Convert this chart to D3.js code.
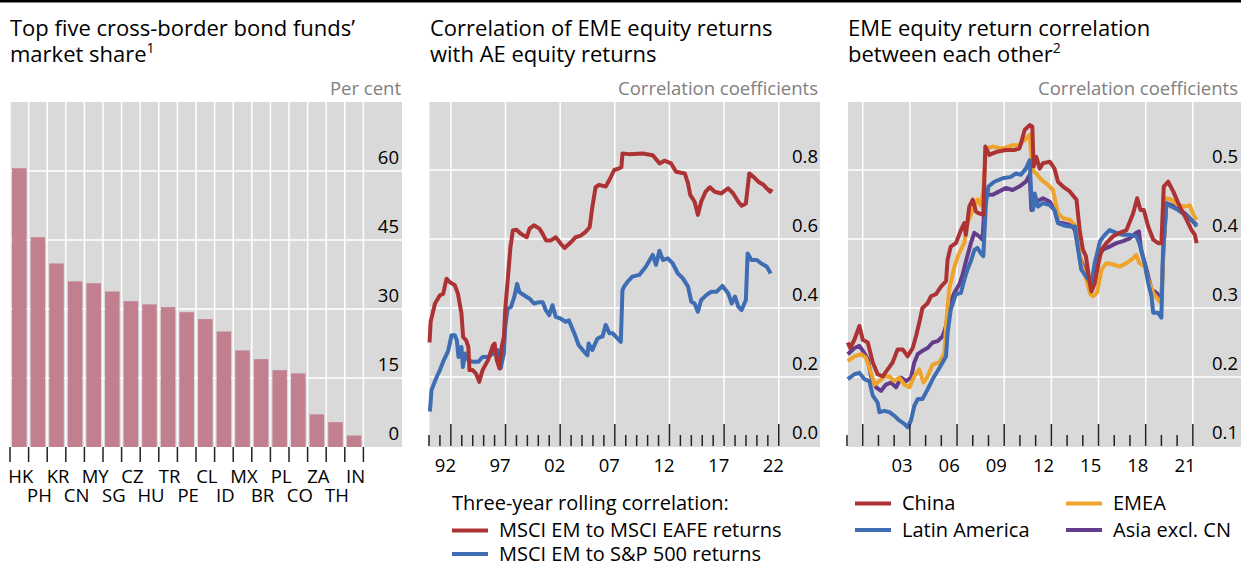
<!DOCTYPE html>
<html>
<head>
<meta charset="utf-8">
<script src="https://cdn.jsdelivr.net/npm/d3@7"></script>
<style>
  body { margin: 0; background: #fff; }
  svg { display: block; }
  text { font-family: "Open Sans", sans-serif; fill: #000; }
</style>
</head>
<body>
<svg width="1241" height="565"></svg>
<script>
// left panel: market share of top five cross-border bond funds, per cent
const countries = ["HK","PH","KR","CN","MY","SG","CZ","HU","TR","PE","CL","ID","MX","BR","PL","CO","ZA","TH","IN"];
const shares = [60.6, 45.6, 39.9, 36.0, 35.6, 33.8, 31.7, 31.0, 30.4, 29.3, 27.8, 25.1, 21.0, 19.1, 16.7, 16.0, 7.1, 5.4, 2.5];
const shareTicks = [0, 15, 30, 45, 60];

// middle panel: three-year rolling correlation, [year, value]
const eafe = [[1991.05,0.30],[1991.15,0.36],[1991.55,0.413],[1992.0,0.437],[1992.3,0.441],[1992.6,0.485],[1992.9,0.475],[1993.36,0.466],[1993.65,0.441],[1993.97,0.384],[1994.12,0.316],[1994.4,0.306],[1994.6,0.287],[1994.7,0.22],[1995.0,0.22],[1995.3,0.21],[1995.6,0.186],[1995.9,0.22],[1996.4,0.249],[1996.85,0.292],[1997.0,0.297],[1997.2,0.249],[1997.45,0.225],[1997.65,0.287],[1997.85,0.316],[1997.97,0.393],[1998.2,0.48],[1998.45,0.576],[1998.67,0.625],[1999.0,0.627],[1999.4,0.615],[1999.94,0.605],[2000.2,0.63],[2000.6,0.64],[2001.1,0.63],[2001.4,0.615],[2001.7,0.596],[2002.15,0.596],[2002.6,0.605],[2003.06,0.586],[2003.4,0.574],[2004.0,0.591],[2004.4,0.605],[2004.9,0.61],[2005.3,0.62],[2005.7,0.634],[2005.94,0.692],[2006.24,0.75],[2006.55,0.757],[2007.17,0.752],[2007.5,0.771],[2007.94,0.8],[2008.4,0.805],[2008.6,0.808],[2008.7,0.848],[2009.3,0.846],[2010.55,0.848],[2011.47,0.843],[2012.1,0.819],[2012.54,0.827],[2013.15,0.819],[2013.6,0.795],[2014.4,0.79],[2014.7,0.761],[2014.9,0.728],[2015.3,0.708],[2015.6,0.67],[2015.9,0.708],[2016.3,0.737],[2016.7,0.75],[2017.14,0.737],[2017.75,0.732],[2018.37,0.747],[2018.83,0.732],[2019.3,0.708],[2019.6,0.696],[2019.99,0.703],[2020.3,0.79],[2020.67,0.781],[2021.13,0.766],[2021.6,0.757],[2021.9,0.747],[2022.2,0.737],[2022.36,0.745]];
const sp500 = [[1991.08,0.10],[1991.23,0.162],[1991.7,0.2],[1992.0,0.22],[1992.3,0.245],[1992.75,0.275],[1993.06,0.321],[1993.36,0.321],[1993.55,0.306],[1993.7,0.258],[1993.97,0.287],[1994.1,0.229],[1994.3,0.268],[1994.6,0.249],[1995.0,0.244],[1995.5,0.244],[1995.9,0.258],[1996.4,0.258],[1996.85,0.268],[1997.3,0.278],[1997.55,0.225],[1997.85,0.268],[1997.97,0.345],[1998.2,0.398],[1998.5,0.403],[1998.8,0.432],[1999.06,0.47],[1999.27,0.446],[1999.7,0.437],[2000.2,0.427],[2000.6,0.413],[2001.1,0.417],[2001.4,0.417],[2001.7,0.393],[2002.0,0.379],[2002.3,0.408],[2002.6,0.374],[2003.06,0.369],[2003.5,0.36],[2003.8,0.364],[2004.3,0.326],[2004.7,0.292],[2005.2,0.273],[2005.5,0.263],[2005.6,0.297],[2005.94,0.278],[2006.4,0.311],[2006.7,0.316],[2006.87,0.317],[2007.17,0.351],[2007.5,0.327],[2007.8,0.327],[2008.09,0.317],[2008.55,0.302],[2008.7,0.452],[2008.85,0.462],[2009.17,0.476],[2009.6,0.491],[2010.24,0.496],[2010.85,0.52],[2011.47,0.554],[2011.77,0.525],[2012.08,0.566],[2012.4,0.539],[2012.85,0.544],[2013.3,0.529],[2013.77,0.5],[2014.23,0.486],[2014.7,0.462],[2015.0,0.418],[2015.3,0.413],[2015.6,0.389],[2015.9,0.423],[2016.4,0.438],[2016.8,0.447],[2017.3,0.447],[2017.85,0.464],[2018.37,0.443],[2018.7,0.413],[2019.0,0.433],[2019.3,0.404],[2019.6,0.394],[2019.99,0.423],[2020.15,0.558],[2020.5,0.539],[2021.0,0.539],[2021.4,0.529],[2021.9,0.52],[2022.26,0.5]];
const corrTicksMid = [0.0, 0.2, 0.4, 0.6, 0.8];

// right panel: EME equity return correlation, [year, value]
const china = [[2000.05,0.25],[2000.2,0.242],[2000.47,0.254],[2000.79,0.274],[2001.0,0.254],[2001.32,0.25],[2001.64,0.221],[2001.95,0.204],[2002.27,0.201],[2002.59,0.211],[2002.9,0.221],[2003.22,0.24],[2003.54,0.24],[2003.86,0.23],[2004.18,0.242],[2004.39,0.259],[2004.6,0.279],[2004.8,0.3],[2005.13,0.307],[2005.34,0.317],[2005.66,0.32],[2005.98,0.331],[2006.3,0.339],[2006.4,0.37],[2006.6,0.389],[2006.93,0.394],[2007.25,0.413],[2007.46,0.423],[2007.56,0.406],[2007.78,0.447],[2008.0,0.457],[2008.2,0.44],[2008.4,0.437],[2008.67,0.435],[2008.8,0.534],[2009.05,0.522],[2009.47,0.526],[2010.1,0.529],[2010.64,0.529],[2010.96,0.531],[2011.06,0.538],[2011.3,0.558],[2011.62,0.565],[2011.79,0.563],[2011.87,0.505],[2012.04,0.519],[2012.26,0.502],[2012.47,0.51],[2012.9,0.512],[2013.2,0.502],[2013.42,0.483],[2013.74,0.476],[2014.17,0.469],[2014.6,0.457],[2014.8,0.413],[2015.0,0.385],[2015.2,0.375],[2015.44,0.336],[2015.55,0.324],[2015.76,0.336],[2016.0,0.365],[2016.2,0.385],[2016.5,0.394],[2016.93,0.404],[2017.35,0.409],[2017.78,0.413],[2018.2,0.437],[2018.46,0.459],[2018.67,0.442],[2018.88,0.442],[2019.16,0.418],[2019.48,0.399],[2019.8,0.394],[2020.0,0.394],[2020.15,0.476],[2020.43,0.483],[2020.75,0.469],[2021.17,0.447],[2021.6,0.428],[2021.92,0.413],[2022.13,0.406],[2022.24,0.394]];
const latam = [[2000.05,0.197],[2000.47,0.204],[2000.79,0.206],[2001.1,0.197],[2001.42,0.194],[2001.64,0.173],[2001.95,0.163],[2002.06,0.149],[2002.38,0.151],[2002.7,0.149],[2003.0,0.144],[2003.33,0.137],[2003.65,0.132],[2003.86,0.127],[2004.07,0.137],[2004.28,0.158],[2004.5,0.168],[2004.8,0.168],[2005.13,0.182],[2005.45,0.197],[2005.77,0.209],[2006.08,0.221],[2006.3,0.23],[2006.4,0.264],[2006.6,0.298],[2006.93,0.32],[2007.25,0.322],[2007.46,0.341],[2007.67,0.356],[2007.88,0.368],[2008.1,0.384],[2008.3,0.387],[2008.52,0.379],[2008.67,0.375],[2008.84,0.452],[2009.0,0.476],[2009.37,0.483],[2009.9,0.488],[2010.43,0.49],[2010.75,0.495],[2011.06,0.493],[2011.38,0.502],[2011.62,0.514],[2011.73,0.459],[2011.83,0.442],[2011.94,0.466],[2012.15,0.447],[2012.47,0.452],[2012.9,0.449],[2013.2,0.442],[2013.42,0.423],[2013.74,0.42],[2014.17,0.418],[2014.5,0.418],[2014.7,0.385],[2014.9,0.356],[2015.2,0.346],[2015.55,0.336],[2015.76,0.365],[2016.1,0.397],[2016.4,0.406],[2016.7,0.413],[2017.14,0.409],[2017.56,0.406],[2017.99,0.406],[2018.4,0.404],[2018.6,0.394],[2018.94,0.365],[2019.16,0.336],[2019.37,0.317],[2019.48,0.293],[2019.8,0.293],[2020.0,0.286],[2020.1,0.38],[2020.32,0.452],[2020.64,0.447],[2021.07,0.442],[2021.5,0.435],[2021.92,0.428],[2022.24,0.418]];
const emea = [[2000.05,0.223],[2000.47,0.23],[2000.9,0.233],[2001.2,0.228],[2001.53,0.206],[2001.74,0.189],[2002.06,0.194],[2002.38,0.201],[2002.7,0.201],[2003.0,0.194],[2003.33,0.199],[2003.65,0.189],[2003.97,0.185],[2004.28,0.201],[2004.6,0.211],[2004.86,0.192],[2005.13,0.201],[2005.45,0.218],[2005.87,0.221],[2006.2,0.235],[2006.3,0.274],[2006.5,0.327],[2006.83,0.36],[2007.14,0.38],[2007.46,0.394],[2007.67,0.423],[2008.0,0.442],[2008.3,0.457],[2008.52,0.449],[2008.67,0.471],[2008.84,0.531],[2009.26,0.534],[2009.9,0.531],[2010.53,0.536],[2010.96,0.536],[2011.17,0.541],[2011.4,0.546],[2011.62,0.551],[2011.79,0.5],[2012.04,0.495],[2012.36,0.486],[2012.8,0.478],[2013.1,0.471],[2013.42,0.437],[2013.74,0.43],[2014.17,0.428],[2014.5,0.42],[2014.7,0.394],[2014.9,0.365],[2015.2,0.343],[2015.48,0.32],[2015.65,0.317],[2015.9,0.322],[2016.2,0.356],[2016.5,0.365],[2016.93,0.363],[2017.35,0.36],[2017.78,0.365],[2018.2,0.372],[2018.4,0.377],[2018.6,0.365],[2018.94,0.36],[2019.16,0.341],[2019.48,0.322],[2019.8,0.312],[2020.0,0.307],[2020.15,0.394],[2020.32,0.459],[2020.64,0.457],[2021.07,0.449],[2021.5,0.447],[2021.8,0.449],[2022.0,0.437],[2022.24,0.428]];
const asia = [[2000.05,0.233],[2000.47,0.242],[2000.79,0.245],[2001.1,0.235],[2001.32,0.226],[2001.53,0.201],[2001.85,0.185],[2002.17,0.18],[2002.48,0.189],[2002.8,0.192],[2003.12,0.185],[2003.44,0.199],[2003.75,0.194],[2004.07,0.199],[2004.28,0.221],[2004.5,0.233],[2004.8,0.238],[2005.13,0.242],[2005.45,0.25],[2005.77,0.252],[2006.08,0.259],[2006.3,0.274],[2006.5,0.303],[2006.83,0.322],[2007.14,0.334],[2007.35,0.348],[2007.57,0.368],[2007.88,0.394],[2008.1,0.409],[2008.4,0.404],[2008.62,0.399],[2008.8,0.466],[2008.95,0.464],[2009.26,0.464],[2009.69,0.469],[2010.1,0.474],[2010.53,0.471],[2010.96,0.476],[2011.38,0.483],[2011.62,0.493],[2011.73,0.442],[2012.04,0.454],[2012.47,0.459],[2012.9,0.454],[2013.2,0.442],[2013.42,0.425],[2013.74,0.423],[2014.27,0.42],[2014.5,0.413],[2014.8,0.375],[2015.1,0.356],[2015.44,0.341],[2015.65,0.346],[2016.0,0.375],[2016.3,0.385],[2016.7,0.389],[2017.14,0.394],[2017.56,0.397],[2017.99,0.401],[2018.4,0.409],[2018.57,0.411],[2018.7,0.385],[2019.05,0.356],[2019.37,0.327],[2019.69,0.322],[2020.0,0.312],[2020.12,0.38],[2020.32,0.452],[2021.07,0.445],[2021.5,0.437],[2022.24,0.42]];
const corrTicksRight = [0.1, 0.2, 0.3, 0.4, 0.5];

const grey = "#d9d9d9";
const red = "#ad3234", blue = "#3e6db3", orange = "#eea32a", purple = "#653c8c";
const svg = d3.select("svg");

// black rule along the top
svg.append("rect").attr("x", 0).attr("y", 0).attr("width", 1241).attr("height", 2.5).attr("fill", "#000");

// two-line title kept in one text element
function title(x, lines, sup) {
  const t = svg.append("text").attr("x", x).attr("y", 36).attr("font-size", 22);
  t.append("tspan").attr("x", x).text(lines[0]);
  t.append("tspan").attr("x", x).attr("y", 62).text(lines[1]);
  if (sup) t.append("tspan").attr("font-size", 14).attr("dy", -9).text(sup);
}
title(10, ["Top five cross-border bond funds\u2019", "market share"], "1");
title(430, ["Correlation of EME equity returns", "with AE equity returns"]);
title(848, ["EME equity return correlation", "between each other"], "2");

function unit(x, txt) {
  svg.append("text").attr("x", x).attr("y", 95).attr("text-anchor", "end")
    .attr("font-size", 18.5).style("fill", "#7f7f7f").text(txt);
}

// grey plot box + horizontal gridlines
function frame(x0, x1, y, ticks) {
  const g = svg.append("g");
  g.append("rect").attr("x", x0).attr("y", 102).attr("width", x1 - x0).attr("height", 345).attr("fill", grey);
  g.selectAll("line.h").data(ticks.slice(1)).enter().append("line")
    .attr("x1", x0).attr("x2", x1).attr("y1", d => y(d)).attr("y2", d => y(d))
    .attr("stroke", "#fff").attr("stroke-width", 1.5);
  return g;
}
function valueLabels(xr, y, ticks, fmt) {
  svg.append("g").selectAll("text").data(ticks).enter().append("text")
    .attr("x", xr).attr("y", d => y(d) - 7).attr("text-anchor", "end")
    .attr("font-size", 18.5).text(fmt);
}

// ---------- left panel ----------
const xb = d3.scaleBand().domain(countries).range([10, 363.4]).paddingInner(0.22).paddingOuter(0.11);
const yb = d3.scaleLinear().domain([0, 75]).range([447, 102]);
frame(10, 402, yb, shareTicks);
const step = xb.step();
const bounds = d3.range(countries.length + 1).map(i => xb(countries[0]) - step * 0.11 + i * step);
svg.append("g").selectAll("line").data(bounds).enter().append("line")
  .attr("x1", d => d).attr("x2", d => d).attr("y1", 102).attr("y2", 447)
  .attr("stroke", "#fff").attr("stroke-width", 1.5);
svg.append("g").selectAll("rect").data(countries).enter().append("rect")
  .attr("x", d => xb(d)).attr("width", xb.bandwidth())
  .attr("y", (d, i) => yb(shares[i])).attr("height", (d, i) => yb(0) - yb(shares[i]))
  .attr("fill", "#c27f8e");
svg.append("g").selectAll("line").data(bounds).enter().append("line")
  .attr("x1", d => d).attr("x2", d => d).attr("y1", 447).attr("y2", 462)
  .attr("stroke", "#222").attr("stroke-width", 1.5);
svg.append("g").selectAll("text").data(countries).enter().append("text")
  .attr("x", d => xb(d) + xb.bandwidth() / 2 + 1.5)
  .attr("y", (d, i) => i % 2 === 0 ? 482.5 : 501.5)
  .attr("text-anchor", "middle").attr("font-size", 18.5).text(d => d);
valueLabels(399, yb, shareTicks, d => d);
unit(401, "Per cent");

// ---------- shared time-axis helpers ----------
function timeTicks(x, minor, major, labels, fmt) {
  const g = svg.append("g");
  g.selectAll("line.mi").data(minor).enter().append("line")
    .attr("x1", d => x(d)).attr("x2", d => x(d)).attr("y1", 435).attr("y2", 446)
    .attr("stroke", "#222").attr("stroke-width", 1.5);
  g.selectAll("line.ma").data(major).enter().append("line")
    .attr("x1", d => x(d)).attr("x2", d => x(d)).attr("y1", 424).attr("y2", 446)
    .attr("stroke", "#222").attr("stroke-width", 1.5);
  g.selectAll("text").data(labels).enter().append("text")
    .attr("x", d => x(d + 0.5)).attr("y", 472).attr("text-anchor", "middle")
    .attr("font-size", 18.5).text(fmt);
}
function vgrid(x, major) {
  svg.append("g").selectAll("line").data(major).enter().append("line")
    .attr("x1", d => x(d)).attr("x2", d => x(d)).attr("y1", 102).attr("y2", 447)
    .attr("stroke", "#fff").attr("stroke-width", 1.5);
}
const yy = d => String(d).slice(2);

// ---------- middle panel ----------
const xm = d3.scaleLinear().domain([1991, 2026.8]).range([429, 820.3]);
const ym = d3.scaleLinear().domain([0, 1]).range([446, 101]);
frame(429.5, 820, ym, corrTicksMid);
const midMajor = d3.range(1993, 2024, 5);
vgrid(xm, midMajor);
const lineM = d3.line().x(d => xm(d[0])).y(d => ym(d[1]));
[[sp500, blue], [eafe, red]].forEach(([s, c]) => {
  svg.append("path").datum(s).attr("d", lineM).attr("fill", "none")
    .attr("stroke", c).attr("stroke-width", 4).attr("stroke-linejoin", "round");
});
timeTicks(xm, d3.range(1991, 2023).filter(d => (d - 1993) % 5 !== 0), midMajor, d3.range(1992, 2023, 5), yy);
valueLabels(818, ym, corrTicksMid, d3.format(".1f"));
unit(818, "Correlation coefficients");

// ---------- right panel ----------
const xr = d3.scaleLinear().domain([2000, 2025]).range([847, 1240]);
const yr = d3.scaleLinear().domain([0.1, 0.6]).range([446, 101]);
frame(848, 1241, yr, corrTicksRight);
const rightMajor = d3.range(2001, 2023, 3);
vgrid(xr, rightMajor);
const lineR = d3.line().x(d => xr(d[0])).y(d => yr(d[1]));
[[asia, purple], [emea, orange], [latam, blue], [china, red]].forEach(([s, c]) => {
  svg.append("path").datum(s).attr("d", lineR).attr("fill", "none")
    .attr("stroke", c).attr("stroke-width", 4).attr("stroke-linejoin", "round");
});
timeTicks(xr, d3.range(2000, 2023).filter(d => (d - 2001) % 3 !== 0), rightMajor, d3.range(2003, 2022, 3), yy);
valueLabels(1238, yr, corrTicksRight, d3.format(".1f"));
unit(1238, "Correlation coefficients");

// ---------- legends ----------
function legendItem(x, y, color, label) {
  svg.append("line").attr("x1", x).attr("x2", x + 36).attr("y1", y).attr("y2", y)
    .attr("stroke", color).attr("stroke-width", 4);
  svg.append("text").attr("x", x + 47).attr("y", y + 6.5).attr("font-size", 20).text(label);
}
svg.append("text").attr("x", 452).attr("y", 509.5).attr("font-size", 20).text("Three-year rolling correlation:");
legendItem(452, 530.5, red, "MSCI EM to MSCI EAFE returns");
legendItem(452, 554, blue, "MSCI EM to S&P 500 returns");
legendItem(855, 503.5, red, "China");
legendItem(855, 530, blue, "Latin America");
legendItem(1066, 503.5, orange, "EMEA");
legendItem(1066, 530, purple, "Asia excl. CN");
</script>
</body>
</html>
